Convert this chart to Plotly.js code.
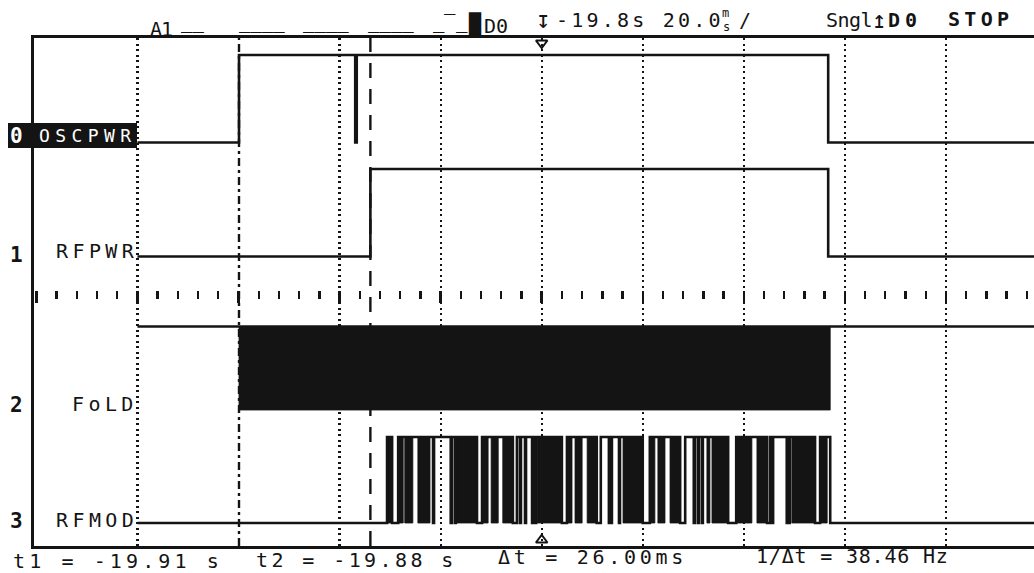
<!DOCTYPE html>
<html>
<head>
<meta charset="utf-8">
<script src="https://cdn.plot.ly/plotly-3.0.1.min.js"></script>
<style>
  html, body { margin: 0; padding: 0; background: #ffffff; }
  #chart { width: 1034px; height: 573px; }
</style>
</head>
<body>
<div id="chart"></div>
<script>
// ---------------- DATA (time in ms relative to trigger; state 0 = low, 1 = high, 2 = fast toggling) ----------------
const channelNames   = ['OSCPWR', 'RFPWR', 'FoLD', 'RFMOD'];
const channelNumbers = ['0', '1', '2', '3'];

const oscpwrT = [-80, -59.9, -36.9, -36.6, 56.7];
const oscpwrS = [0, 1, 0, 1, 0];

const rfpwrT = [-80, -33.9, 56.7];
const rfpwrS = [0, 1, 0];

const foldT = [-80, -59.9, 57.1];
const foldS = [1, 2, 1];

const rfmodT = [-80, -30.6, -29.6, -28.4, -27.4, -27.1, -25.5, -24.5, -22.1, -21.5, -21.3, -18.0, -17.8, -17.2, -17.0,
  -16.8, -12.8, -11.8, -10.6, -10.0, -8.6, -7.7, -5.7, -4.9, -4.3, -4.1, -3.3, -3.1, -1.9, -1.7, -1.3, -1.1,
  -0.9, 4.0, 5.0, 6.0, 6.6, 8.0, 9.0, 10.9, 11.7, 13.3, 13.5, 13.7, 13.9, 15.3, 15.5,
  16.1, 20.0, 21.4, 22.4, 23.0, 24.4, 25.4, 27.4, 28.4, 30.1, 30.3, 30.9, 31.1, 31.7, 31.9,
  32.7, 33.3, 33.7, 36.9, 38.5, 41.6, 42.6, 44.6, 45.2, 45.6, 45.8, 48.5, 48.7, 48.9, 49.1,
  49.5, 54.1, 55.1, 56.5, 57.1];
const rfmodS = [0, 2, 0, 2, 1, 2, 1, 2, 1, 0, 1, 0, 1, 0, 1,
  2, 0, 2, 1, 2, 1, 2, 0, 1, 0, 1, 0, 1, 0, 1, 0, 1,
  2, 0, 2, 1, 2, 1, 2, 0, 1, 0, 1, 0, 1, 0, 1,
  2, 0, 2, 1, 2, 1, 2, 0, 1, 0, 1, 0, 1, 0, 1,
  2, 1, 2, 0, 2, 1, 2, 0, 1, 0, 1, 0, 1, 0, 1,
  2, 0, 2, 1, 0];

const cursorT1 = -59.9;   // ms
const cursorT2 = -33.9;   // ms
const triggerT = 0;       // ms
const gridTicks = [-80, -40, -20, 0, 20, 40, 60, 80];

const headerAnalog = 'A1';
// digital channel activity indicators (groups as shown on screen)
const activityGroups = ['__', '____', '____', '____', '_', '‾', '_', '█'];
const headerLast = 'D0';
const headerDelay  = '-19.8s 20.0';
const headerUnitTop = 'm', headerUnitBottom = 's', headerSlash = '/';
const headerMode = 'Sngl', headerSource = 'D0', headerRun = 'STOP';
const footerTexts = ['t1 = -19.91 s', 't2 = -19.88 s', 'Δt = 26.00ms', '1/Δt = 38.46 Hz'];

// ---------------- LAYOUT CONSTANTS ----------------
const INK = '#141414';
const MONO = '"DejaVu Sans Mono", monospace';
const W = 1034, H = 573, ML = 34, MR = 0, MT = 38, MB = 27;
const PW = W - ML - MR, PH = H - MT - MB;
const xRange = [-100.47, 97.43];
const tEnd = xRange[1] + 2;
// display lanes (y axis units = pixels from plot bottom)
const laneBase = [403.5, 289.5, 136, 23];
const laneAmp  = [87.5, 87.5, 83.5, 86];
// screen positions of the activity indicator groups
const activityX = [180, 238, 302, 367, 432, 443, 455, 467];
const activityY = [21.5, 21.5, 21.5, 21.5, 21.5, 22, 21.5, 24];

const px = v => (v - ML) / PW;
const py = v => (H - MB - v) / PH;

function levelOf(s, i) { return s === 0 ? laneBase[i] : laneBase[i] + laneAmp[i]; }

function stepTrace(T, S, i) {
  const x = [], y = [];
  for (let k = 0; k < T.length; k++) { x.push(T[k]); y.push(levelOf(S[k], i)); }
  x.push(tEnd); y.push(levelOf(S[S.length - 1], i));
  return { type: 'scatter', mode: 'lines', x, y, line: { shape: 'hv', color: INK, width: 2.6 },
           hoverinfo: 'skip', showlegend: false };
}
function busyTrace(T, S, i) {
  const x = [], y = [];
  const lo = laneBase[i], hi = laneBase[i] + laneAmp[i];
  for (let k = 0; k < T.length; k++) {
    if (S[k] !== 2) continue;
    const a = T[k], b = (k + 1 < T.length) ? T[k + 1] : tEnd;
    x.push(a, a, b, b, a, null); y.push(lo, hi, hi, lo, lo, null);
  }
  return { type: 'scatter', mode: 'lines', x, y, fill: 'toself', fillcolor: INK,
           line: { width: 0.8, color: INK }, hoverinfo: 'skip', showlegend: false };
}

const chans = [[oscpwrT, oscpwrS], [rfpwrT, rfpwrS], [foldT, foldS], [rfmodT, rfmodS]];
const traces = [];
chans.forEach((c, i) => {
  if (c[1].includes(2)) traces.push(busyTrace(c[0], c[1], i));
  traces.push(stepTrace(c[0], c[1], i));
});
// trigger position markers
traces.push({ type: 'scatter', mode: 'markers', x: [triggerT, triggerT], y: [PH - 5, 6], cliponaxis: false,
  marker: { symbol: ['triangle-down-open', 'triangle-up-open'], size: 10, color: INK, line: { width: 2, color: INK } },
  hoverinfo: 'skip', showlegend: false });
// dummy trace for ruler axis
traces.push({ type: 'scatter', mode: 'markers', x: [null], y: [null], xaxis: 'x2', yaxis: 'y', hoverinfo: 'skip', showlegend: false });

function T(text, x, y, o = {}) {
  const s = text.replace(/ /g, '\u00a0');
  const t = o.ls ? `<span style="letter-spacing:${o.ls}px">${s}</span>` : s;
  return { xref: 'paper', yref: 'paper', x: px(x), y: py(y), text: t, showarrow: false,
    xanchor: o.anchor || 'left', yanchor: 'middle', borderpad: 0,
    font: { family: MONO, size: o.size || 20, color: o.color || INK, weight: o.bold ? 'bold' : 'normal' } };
}

const annotations = [
  // header
  T(headerAnalog, 149, 29, { ls: -1 }),
  ...activityGroups.map((g, k) => T(g, activityX[k], activityY[k], { size: g === '█' ? 20 : 19 })),
  T(headerLast, 483, 26),
  T('↧', 543, 20, { anchor: 'center', size: 24 }),
  T(headerDelay, 555, 20, { ls: 3.2 }),
  T(headerUnitTop, 725, 12.5, { anchor: 'center', size: 12 }),
  T(headerUnitBottom, 726, 27, { anchor: 'center', size: 12 }),
  T(headerSlash, 745, 20, { anchor: 'center' }),
  T(headerMode, 825, 20, { ls: -0.5 }),
  T('↥', 879, 20, { anchor: 'center', size: 24 }),
  T(headerSource, 887, 20, { ls: 5, bold: true }),
  T(headerRun, 947, 19, { ls: 4.3, bold: true }),
  // channel labels
  T(channelNumbers[0], 16, 136, { anchor: 'center', color: '#ffffff', bold: true, size: 21 }),
  T(channelNames[0], 137, 135, { anchor: 'right', color: '#ffffff', size: 18, ls: 5.4 }),
  T(channelNumbers[1], 16, 254.5, { anchor: 'center', bold: true, size: 21 }),
  T(channelNames[1], 139, 251, { anchor: 'right', ls: 4.4 }),
  T(channelNumbers[2], 16, 405, { anchor: 'center', bold: true, size: 21 }),
  T(channelNames[2], 139, 404, { anchor: 'right', ls: 4.4 }),
  T(channelNumbers[3], 16, 520.5, { anchor: 'center', bold: true, size: 21 }),
  T(channelNames[3], 139, 520, { anchor: 'right', ls: 4.4 }),
  // footer
  T(footerTexts[0], 12, 561, { ls: 4.1 }),
  T(footerTexts[1], 255, 560, { ls: 3.4 }),
  T(footerTexts[2], 497, 557, { ls: 3.7 }),
  T(footerTexts[3], 755, 556, { ls: 0.8 })
];

const shapes = [
  // inverse label box for selected channel 0
  { type: 'rect', xref: 'paper', yref: 'paper', x0: px(8), x1: px(137), y0: py(148), y1: py(123),
    fillcolor: INK, line: { width: 0 }, layer: 'above' },
  // cursor t1 (dash-dot) and t2 (dashed)
  { type: 'line', xref: 'x', yref: 'paper', x0: cursorT1, x1: cursorT1, y0: 0, y1: 1,
    line: { color: INK, width: 2.4, dash: '8px,4px,3px,4px' }, layer: 'above' },
  { type: 'line', xref: 'x', yref: 'paper', x0: cursorT2, x1: cursorT2, y0: 0, y1: 1,
    line: { color: INK, width: 2.4, dash: '15px,11px' }, layer: 'above' }
];

const layout = {
  width: W, height: H,
  margin: { l: ML, r: MR, t: MT, b: MB, pad: 0 },
  paper_bgcolor: '#ffffff', plot_bgcolor: '#ffffff',
  showlegend: false,
  xaxis: { range: xRange, showline: true, mirror: true, linecolor: INK, linewidth: 2.6,
    tickmode: 'array', tickvals: gridTicks, ticks: '', showticklabels: false,
    showgrid: true, gridcolor: INK, gridwidth: 2.2, griddash: '2px,3.5px', zeroline: false, fixedrange: true },
  xaxis2: { overlaying: 'x', anchor: 'free', position: py(290), side: 'bottom', range: xRange,
    tickmode: 'linear', tick0: 0, dtick: 20, ticks: 'outside', ticklen: 12, tickwidth: 2.4, tickcolor: INK,
    minor: { tickmode: 'linear', tick0: 0, dtick: 4, ticks: 'outside', ticklen: 8, tickwidth: 2.4, tickcolor: INK, showgrid: false },
    showticklabels: false, showgrid: false, showline: false, zeroline: false, fixedrange: true },
  yaxis: { range: [0, PH], showline: true, linecolor: INK, linewidth: 2.6, ticks: '', showticklabels: false,
    showgrid: false, zeroline: false, fixedrange: true },
  shapes, annotations
};

Plotly.newPlot('chart', traces, layout, { staticPlot: true, displayModeBar: false });
</script>
</body>
</html>
